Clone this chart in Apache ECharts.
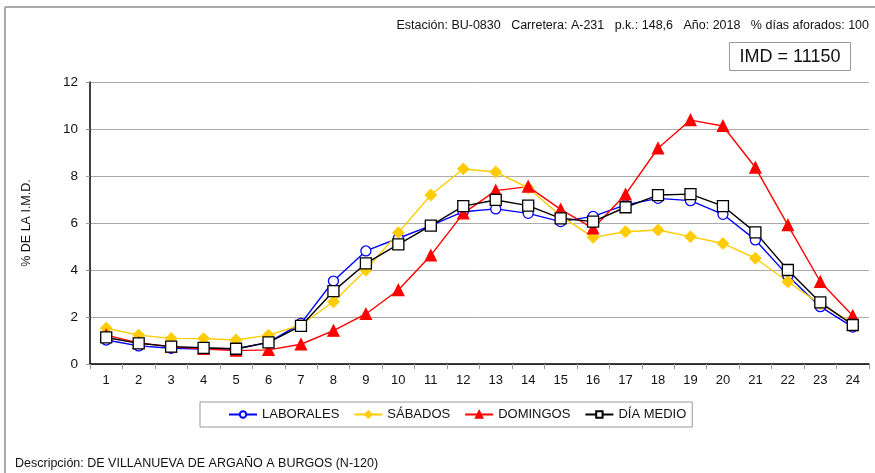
<!DOCTYPE html>
<html><head><meta charset="utf-8">
<script src="https://cdn.jsdelivr.net/npm/echarts@6/dist/echarts.min.js"></script>
<style>html,body{margin:0;padding:0;background:#fff}#c{width:875px;height:473px}</style>
</head><body><div id="c"></div>
<script>
const hours = ['1','2','3','4','5','6','7','8','9','10','11','12','13','14','15','16','17','18','19','20','21','22','23','24'];
const laborales = [1.02,0.77,0.67,0.64,0.64,0.92,1.73,3.53,4.81,5.35,5.89,6.48,6.6,6.41,6.06,6.28,6.77,7.05,6.95,6.37,5.28,3.76,2.44,1.57];
const sabados   = [1.52,1.23,1.09,1.08,1.02,1.23,1.66,2.65,4.0,5.59,7.19,8.3,8.17,7.5,6.3,5.39,5.63,5.7,5.42,5.13,4.5,3.5,2.55,1.74];
const domingos  = [1.23,0.9,0.74,0.64,0.57,0.6,0.84,1.42,2.13,3.15,4.62,6.41,7.38,7.55,6.58,5.77,7.22,9.18,10.38,10.13,8.36,5.91,3.5,2.05];
const diaMedio  = [1.13,0.88,0.74,0.69,0.65,0.92,1.62,3.1,4.28,5.09,5.89,6.72,6.98,6.74,6.2,6.06,6.67,7.19,7.23,6.72,5.6,4.0,2.62,1.66];
const yTicks = [0,2,4,6,8,10,12];
const infoText = 'Estación: BU-0830   Carretera: A-231   p.k.: 148,6   Año: 2018   % días aforados: 100';
const imdText = 'IMD = 11150';
const descText = 'Descripción: DE VILLANUEVA DE ARGAÑO A BURGOS (N-120)';

const FF = '"Liberation Sans", Arial, sans-serif';
const chart = echarts.init(document.getElementById('c'), null, {renderer:'canvas'});
function ser(name, data, color, symbol, size, fill){
  return {name, type:'line', data, symbol, symbolSize:size, showAllSymbol:true,
    lineStyle:{color, width:1.4}, itemStyle:{color: fill, borderColor: color, borderWidth:1.3},
    animation:false, z: 2};
}
chart.setOption({
  animation:false,
  textStyle:{fontFamily:FF},
  grid:{left:90, right:6, top:82, bottom:109},
  xAxis:{type:'category', data:hours, boundaryGap:true,
    axisLine:{lineStyle:{color:'#000', width:1.5}},
    axisTick:{show:true, length:5, lineStyle:{color:'#999'}},
    axisLabel:{color:'#111', fontSize:13, fontFamily:FF, margin:10}},
  yAxis:{type:'value', min:0, max:12, interval:2,
    name:'% DE LA I.M.D.', nameLocation:'middle', nameGap:57, nameRotate:90,
    nameTextStyle:{color:'#111', fontSize:12.5, fontFamily:FF},
    axisLine:{show:true, lineStyle:{color:'#000', width:1.5}},
    axisTick:{show:true, length:4, lineStyle:{color:'#999'}},
    axisLabel:{color:'#111', fontSize:13.5, fontFamily:FF, margin:12},
    splitLine:{lineStyle:{color:'#aaa', width:1}}},
  legend:{left:200, top:402, itemGap:14, orient:'horizontal',
    borderColor:'#999', borderWidth:1, padding:[6,6,6,28],
    itemWidth:28, itemHeight:8,
    textStyle:{color:'#111', fontSize:13, fontFamily:FF},
    data:['LABORALES','SÁBADOS','DOMINGOS','DÍA MEDIO']},
  series:[
    ser('LABORALES', laborales, '#0000ff', 'circle', 10, '#fff'),
    ser('SÁBADOS', sabados, '#ffcc00', 'diamond', 11, '#ffcc00'),
    ser('DOMINGOS', domingos, '#ff0000', 'triangle', 11, '#ff0000'),
    ser('DÍA MEDIO', diaMedio, '#000000', 'rect', 11, '#fff')
  ],
  graphic:[
    {type:'line', shape:{x1:5,y1:7,x2:875,y2:7}, style:{stroke:'#aaa', lineWidth:2}},
    {type:'line', shape:{x1:5,y1:7,x2:5,y2:473}, style:{stroke:'#aaa', lineWidth:2}},
    {type:'text', right:6, top:19, style:{text:infoText, font:'12.5px '+FF, fill:'#111'}},
    {type:'rect', shape:{x:729.5,y:42.5,width:121,height:28}, style:{fill:'#fff', stroke:'#999', lineWidth:1}},
    {type:'text', x:790, y:57, style:{text:imdText, font:'18px '+FF, fill:'#111', align:'center', verticalAlign:'middle'}},
    {type:'text', left:15, top:457, style:{text:descText, font:'12.5px '+FF, fill:'#111'}}
  ]
});
</script></body></html>
